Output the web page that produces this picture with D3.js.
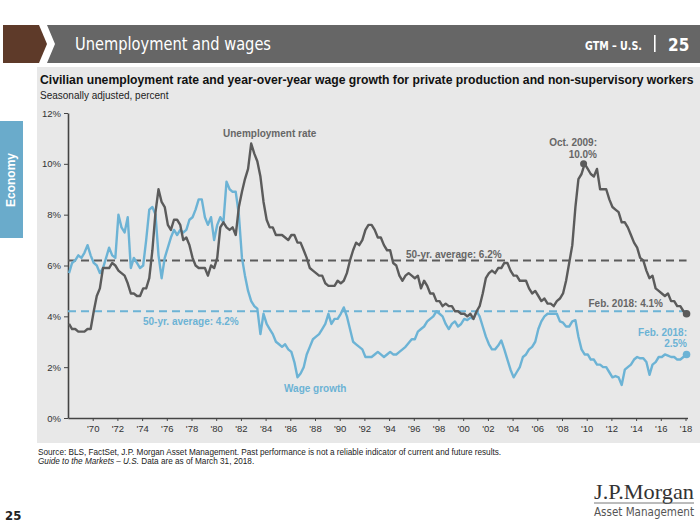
<!DOCTYPE html>
<html><head><meta charset="utf-8">
<script src="https://cdn.jsdelivr.net/npm/d3@7"></script>
<style>
body{margin:0;background:#fff;}
svg{display:block;font-family:"Liberation Sans",Arial,Helvetica,sans-serif;}
</style>
</head><body>
<svg id="c" width="700" height="525"></svg>
<script>
// ---------------- DATA ----------------
// Quarterly observations (Feb, May, Aug, Nov), Feb 1968 .. Feb 2018
const firstObs = new Date(1968, 1, 1);
const unemployment = [
  3.7,3.5,3.5,3.4, 3.4,3.4,3.5,3.5, 4.2,4.8,5.1,5.9, 5.9,5.9,6.1,6.0,
  5.8,5.7,5.6,5.3, 4.9,4.9,4.8,4.8, 5.1,5.1,5.5,6.6, 8.1,9.0,8.5,8.3,
  7.6,7.4,7.8,7.8, 7.6,7.0,7.1,6.8, 6.3,6.0,5.9,5.9, 5.9,5.6,6.0,5.9,
  6.3,7.5,7.7,7.5, 7.4,7.5,7.2,8.3, 8.9,9.4,9.8,10.8, 10.4,10.1,9.5,8.5,
  7.8,7.5,7.5,7.2, 7.2,7.2,7.1,7.0, 7.2,7.2,6.9,6.9, 6.6,6.3,5.9,5.8,
  5.7,5.6,5.6,5.3, 5.2,5.2,5.2,5.4, 5.3,5.4,5.7,6.2, 6.6,6.9,6.8,7.0,
  7.4,7.6,7.6,7.4, 7.1,7.1,6.8,6.6, 6.6,6.1,6.0,5.6, 5.4,5.6,5.7,5.6,
  5.5,5.6,5.1,5.4, 5.2,4.9,4.9,4.6, 4.6,4.4,4.5,4.4, 4.4,4.2,4.2,4.1,
  4.1,4.0,4.1,3.9, 4.2,4.4,4.9,5.5, 5.7,5.8,5.7,5.9, 5.9,6.1,6.1,5.8,
  5.6,5.6,5.4,5.4, 5.4,5.1,4.9,5.0, 4.8,4.6,4.7,4.5, 4.5,4.4,4.6,4.7,
  4.9,5.4,6.1,6.8, 8.3,9.4,9.6,10.0, 9.8,9.6,9.5,9.8, 9.0,9.0,9.0,8.6,
  8.3,8.2,8.1,7.7, 7.7,7.5,7.2,6.9, 6.7,6.3,6.2,5.8, 5.5,5.6,5.1,5.0,
  4.9,4.8,4.9,4.6, 4.6,4.4,4.4,4.2, 4.1
];
const wageGrowth = [
  5.7,6.1,6.2,6.4, 6.3,6.5,6.8,6.4, 6.1,6.0,5.7,5.9, 6.3,6.7,6.4,6.3,
  8.0,7.5,7.3,7.9, 5.9,6.3,6.1,5.9, 6.0,7.0,8.2,8.3, 8.0,6.4,5.5,6.3,
  6.7,7.1,7.4,7.2, 7.4,7.3,7.4,7.8, 7.9,8.2,8.6,8.6, 7.9,7.6,7.9,7.0,
  7.6,7.9,7.7,9.3, 9.0,8.9,8.9,8.0, 6.3,5.6,5.0,4.6, 4.4,4.3,3.3,4.1,
  3.7,3.5,3.3,3.0, 2.9,2.8,2.9,2.7, 2.6,2.2,1.6,1.75, 2.0,2.5,2.8,3.1,
  3.2,3.3,3.5,3.7, 4.1,3.7,3.9,3.9, 4.1,4.35,4.0,3.5, 3.0,2.9,2.8,2.7,
  2.4,2.4,2.4,2.5, 2.6,2.5,2.4,2.5, 2.6,2.5,2.5,2.6, 2.7,2.8,2.95,3.1,
  3.1,3.4,3.5,3.6, 3.8,3.9,4.0,4.2, 4.1,4.0,3.7,3.5, 3.7,3.8,3.6,3.7,
  3.9,3.85,3.95,3.9, 4.2,4.0,3.6,3.2, 2.9,2.7,2.7,2.85, 3.05,2.7,2.3,1.9,
  1.6,1.8,2.0,2.4, 2.5,2.7,2.8,3.0, 3.5,3.8,4.0,4.1, 4.1,4.1,4.1,3.8,
  3.75,3.6,3.6,3.8, 3.85,3.2,2.7,2.5, 2.5,2.3,2.3,2.1, 2.1,2.0,2.0,1.8,
  1.6,1.65,1.6,1.3, 1.9,2.0,2.1,2.3, 2.4,2.35,2.35,2.2, 1.7,2.1,2.2,2.4,
  2.4,2.5,2.45,2.4, 2.4,2.3,2.3,2.4, 2.5
];
const unemploymentAverage = 6.2;
const wageAverage = 4.2;
const yTickValues = [0, 2, 4, 6, 8, 10, 12];
const xTickYears = d3.range(1970, 2019, 2);
const peakPoint = {date: new Date(2009, 9, 1), value: 10.0};
const lastDate = new Date(2018, 1, 1);

// ---------------- SETUP ----------------
const svg = d3.select("#c");
const GRAY = "#5b5b5b", BLUE = "#6cb3d5";
const dates = unemployment.map((_, i) => d3.timeMonth.offset(firstObs, 3 * i));

const x = d3.scaleTime().domain([new Date(1968, 0, 1), new Date(2018, 2, 1)]).range([68, 687.5]);
const y = d3.scaleLinear().domain([0, 12]).range([418, 113]);

const narrow = "'Liberation Sans Narrow','DejaVu Sans Condensed',sans-serif";

// header bar
svg.append("polygon").attr("points", "47,25 700,25 700,63 47,63 55,44").attr("fill", "#666666");
svg.append("polygon").attr("points", "3,25 39,25 47,44 39,63 3,63").attr("fill", "#5e3a29");
svg.append("text").attr("x", 75).attr("y", 50).attr("fill", "#fff")
  .attr("font-family", narrow)
  .attr("font-size", 17).attr("textLength", 196).attr("lengthAdjust", "spacingAndGlyphs")
  .text("Unemployment and wages");
svg.append("text").attr("x", 585).attr("y", 50).attr("fill", "#fff")
  .attr("font-family", narrow)
  .attr("font-size", 13).attr("font-weight", "bold").attr("textLength", 57).attr("lengthAdjust", "spacingAndGlyphs")
  .text("GTM – U.S.");
svg.append("rect").attr("x", 654).attr("y", 35).attr("width", 1.6).attr("height", 17).attr("fill", "#fff");
svg.append("text").attr("x", 668).attr("y", 51).attr("fill", "#fff")
  .attr("font-family", narrow)
  .attr("font-size", 17).attr("font-weight", "bold").text("25");

// side tab
svg.append("rect").attr("x", 0).attr("y", 121).attr("width", 23).attr("height", 117).attr("fill", "#6aabcb");
svg.append("text").attr("transform", "translate(15,180) rotate(-90)").attr("text-anchor", "middle")
  .attr("fill", "#fff").attr("font-size", 12).attr("font-weight", "bold").text("Economy");

// chart panel
svg.append("rect").attr("x", 37).attr("y", 67).attr("width", 663).attr("height", 376).attr("fill", "#e8e8e8");
svg.append("text").attr("x", 40).attr("y", 84).attr("font-size", 12.2).attr("font-weight", "bold").attr("fill", "#111")
  .text("Civilian unemployment rate and year-over-year wage growth for private production and non-supervisory workers");
svg.append("text").attr("x", 40).attr("y", 99).attr("font-size", 10).attr("fill", "#222")
  .text("Seasonally adjusted, percent");

// axes
const yAxis = svg.append("g").attr("transform", "translate(68,0)")
  .call(d3.axisLeft(y).tickValues(yTickValues).tickFormat(d => d + "%").tickSize(4).tickSizeOuter(0).tickPadding(3));
const xAxis = svg.append("g").attr("transform", "translate(0,418)")
  .call(d3.axisBottom(x).tickValues(xTickYears.map(yv => new Date(yv, 0, 1)))
    .tickFormat(d => "'" + String(d.getFullYear()).slice(2)).tickSize(3).tickSizeOuter(0).tickPadding(4));
[yAxis, xAxis].forEach(g => {
  g.selectAll("path.domain").attr("stroke", "#444").attr("stroke-width", 1.6);
  g.selectAll(".tick line").attr("stroke", "#444");
  g.selectAll(".tick text").attr("fill", "#333").attr("font-size", 9.5)
    .attr("font-family", "'Liberation Sans',Arial,sans-serif");
});

// average lines
svg.append("line").attr("x1", x.range()[0]).attr("x2", x(lastDate)).attr("y1", y(unemploymentAverage)).attr("y2", y(unemploymentAverage))
  .attr("stroke", GRAY).attr("stroke-width", 2).attr("stroke-dasharray", "8,5");
svg.append("line").attr("x1", x.range()[0]).attr("x2", x(lastDate)).attr("y1", y(wageAverage)).attr("y2", y(wageAverage))
  .attr("stroke", BLUE).attr("stroke-width", 2).attr("stroke-dasharray", "8,5");

// lines
const line = d3.line().x(d => x(d[0])).y(d => y(d[1]));
svg.append("path").datum(dates.map((d, i) => [d, wageGrowth[i]]))
  .attr("d", line).attr("fill", "none").attr("stroke", BLUE).attr("stroke-width", 2.4).attr("stroke-linejoin", "round");
svg.append("path").datum(dates.map((d, i) => [d, unemployment[i]]))
  .attr("d", line).attr("fill", "none").attr("stroke", GRAY).attr("stroke-width", 2.4).attr("stroke-linejoin", "round");

// end / peak dots
svg.append("circle").attr("cx", x(peakPoint.date)).attr("cy", y(peakPoint.value)).attr("r", 3.5).attr("fill", GRAY);
svg.append("circle").attr("cx", x(lastDate)).attr("cy", y(unemployment[unemployment.length - 1])).attr("r", 3.8).attr("fill", GRAY);
svg.append("circle").attr("cx", x(lastDate)).attr("cy", y(wageGrowth[wageGrowth.length - 1])).attr("r", 3.8).attr("fill", BLUE);

// annotations
function note(tx, ty, txt, col, anchor) {
  svg.append("text").attr("x", tx).attr("y", ty).attr("fill", col).attr("font-size", 10)
    .attr("font-weight", "bold").attr("text-anchor", anchor || "start").text(txt);
}
note(223, 137, "Unemployment rate", "#666");
note(284, 392, "Wage growth", BLUE);
note(406, 258, "50-yr. average: " + unemploymentAverage.toFixed(1) + "%", "#666");
note(143, 325, "50-yr. average: " + wageAverage.toFixed(1) + "%", BLUE);
note(597, 146, "Oct. 2009:", "#666", "end");
note(597, 158, peakPoint.value.toFixed(1) + "%", "#666", "end");
note(663, 307, "Feb. 2018: " + unemployment[unemployment.length - 1].toFixed(1) + "%", "#666", "end");
note(687, 336, "Feb. 2018:", BLUE, "end");
note(687, 347, wageGrowth[wageGrowth.length - 1].toFixed(1) + "%", BLUE, "end");

// footer
svg.append("text").attr("x", 38).attr("y", 455).attr("font-size", 8.2).attr("fill", "#222")
  .text("Source: BLS, FactSet, J.P. Morgan Asset Management. Past performance is not a reliable indicator of current and future results.");
const f2 = svg.append("text").attr("x", 38).attr("y", 464).attr("font-size", 8.2).attr("fill", "#222");
f2.append("tspan").attr("font-style", "italic").text("Guide to the Markets – U.S.");
f2.append("tspan").text(" Data are as of March 31, 2018.");
svg.append("text").attr("x", 5).attr("y", 520).attr("font-size", 13).attr("font-weight", "bold").attr("fill", "#222")
  .attr("font-family", narrow).text("25");
svg.append("text").attr("x", 594).attr("y", 499).attr("font-size", 21).attr("fill", "#333")
  .attr("font-family", "'Liberation Serif','Times New Roman',serif").attr("textLength", 100).attr("lengthAdjust", "spacingAndGlyphs")
  .text("J.P.Morgan");
svg.append("line").attr("x1", 594).attr("x2", 694).attr("y1", 503).attr("y2", 503).attr("stroke", "#555").attr("stroke-width", 0.8);
svg.append("text").attr("x", 594).attr("y", 516).attr("font-size", 11.5).attr("fill", "#555")
  .attr("font-family", narrow).attr("textLength", 100).attr("lengthAdjust", "spacingAndGlyphs")
  .text("Asset Management");
</script>
</body></html>
